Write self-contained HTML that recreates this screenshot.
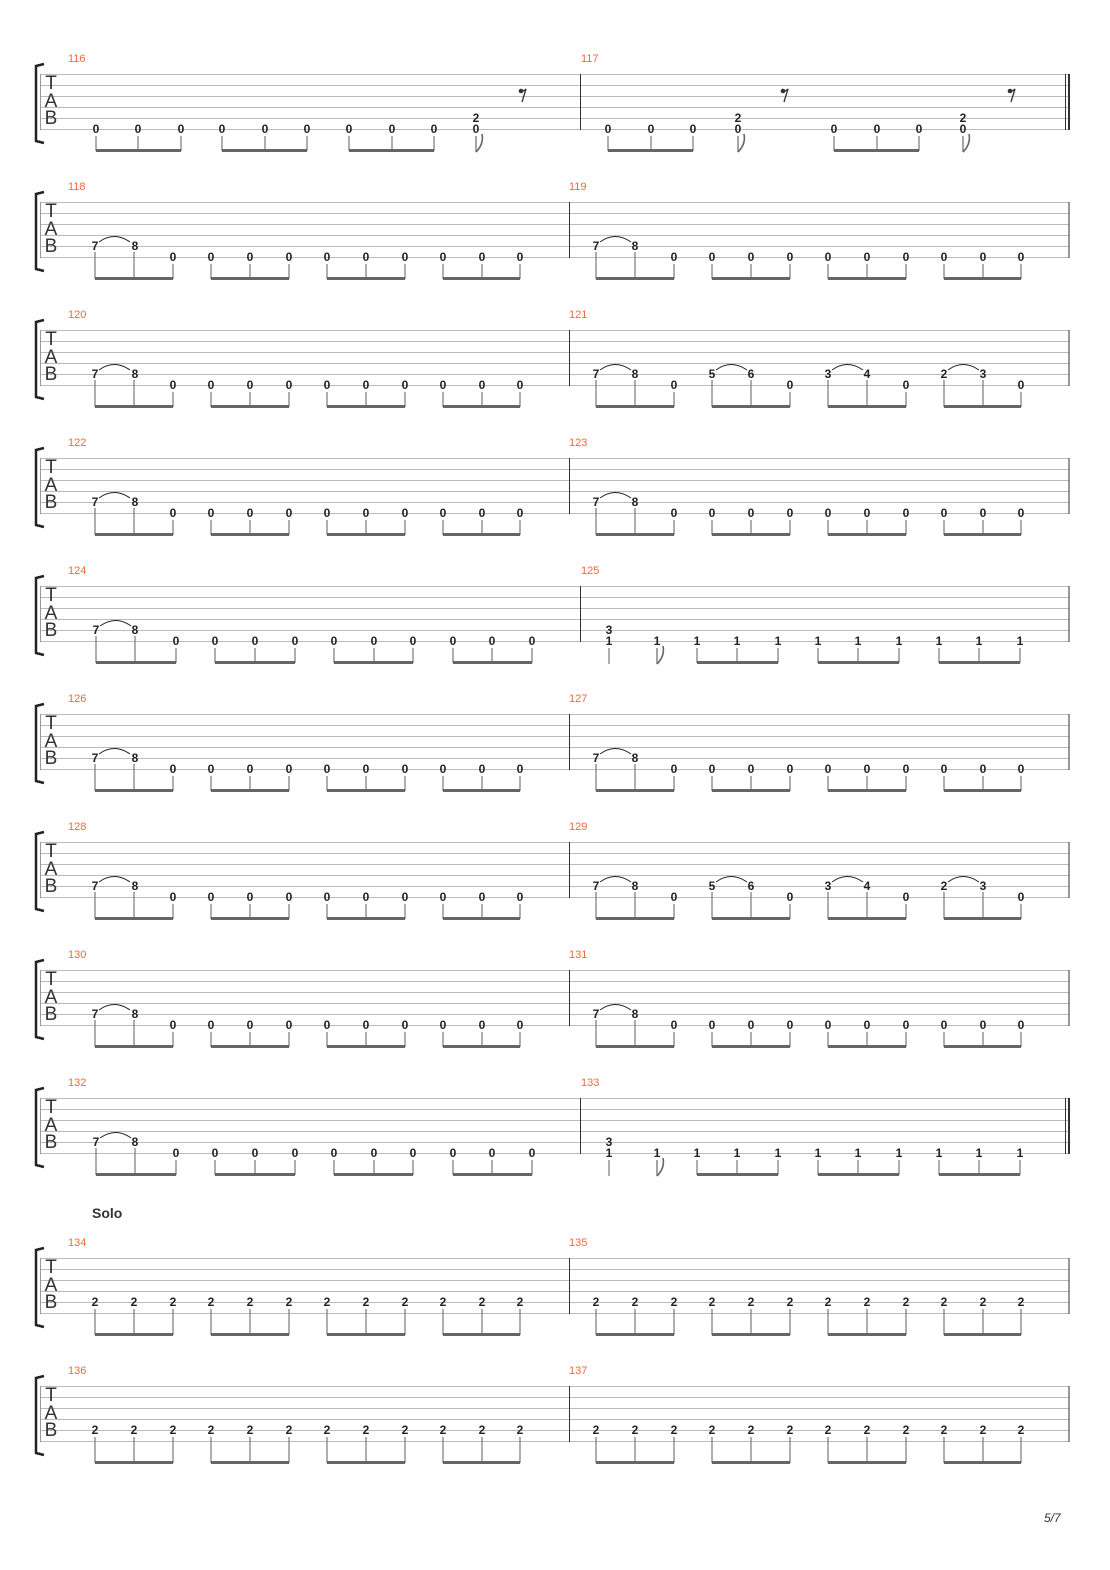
<!DOCTYPE html>
<html><head><meta charset="utf-8"><style>
body{margin:0;background:#fff}
svg{display:block}
.n{font:bold 12px "Liberation Sans",sans-serif;text-anchor:middle;fill:#222}
.m{font:11px "Liberation Sans",sans-serif;fill:#f06a3c}
.t{font:19px "Liberation Sans",sans-serif;text-anchor:middle;fill:#333}
</style></head><body>
<svg width="1110" height="1570" viewBox="0 0 1110 1570" xmlns="http://www.w3.org/2000/svg">
<defs>
<g id="st">
<g stroke="#bbb" stroke-width="1"><line x1="40" y1="0.5" x2="1069" y2="0.5"/><line x1="40" y1="11.5" x2="1069" y2="11.5"/><line x1="40" y1="22.5" x2="1069" y2="22.5"/><line x1="40" y1="33.5" x2="1069" y2="33.5"/><line x1="40" y1="44.5" x2="1069" y2="44.5"/><line x1="40" y1="55.5" x2="1069" y2="55.5"/></g>
<line x1="40.5" y1="0" x2="40.5" y2="56" stroke="#999"/>
<path d="M44 -10 L36 -8 L36 67 L44 69" fill="none" stroke="#222" stroke-width="2.5"/>
</g>
<g id="bm" stroke="#777" stroke-width="1.2">
<line x1="0" y1="62" x2="0" y2="77"/><line x1="39" y1="62" x2="39" y2="77"/><line x1="78" y1="62" x2="78" y2="77"/>
<line x1="116" y1="62" x2="116" y2="77"/><line x1="155" y1="62" x2="155" y2="77"/><line x1="194" y1="62" x2="194" y2="77"/>
<line x1="232" y1="62" x2="232" y2="77"/><line x1="271" y1="62" x2="271" y2="77"/><line x1="310" y1="62" x2="310" y2="77"/>
<line x1="348" y1="62" x2="348" y2="77"/><line x1="387" y1="62" x2="387" y2="77"/><line x1="425" y1="62" x2="425" y2="77"/>
<rect x="0" y="75" width="78" height="3" fill="#666" stroke="none"/><rect x="116" y="75" width="78" height="3" fill="#666" stroke="none"/><rect x="232" y="75" width="78" height="3" fill="#666" stroke="none"/><rect x="348" y="75" width="77" height="3" fill="#666" stroke="none"/>
</g>
<g id="ts" stroke="#777" stroke-width="1.2"><line x1="0" y1="50" x2="0" y2="62"/><line x1="39" y1="50" x2="39" y2="62"/><path d="M4 40 Q19 29 35 40" fill="none" stroke="#222" stroke-width="1"/></g>
<g id="bm2" stroke="#777" stroke-width="1.2">
<line x1="0" y1="51" x2="0" y2="62"/><line x1="39" y1="51" x2="39" y2="62"/><line x1="78" y1="51" x2="78" y2="62"/>
<line x1="116" y1="51" x2="116" y2="62"/><line x1="155" y1="51" x2="155" y2="62"/><line x1="194" y1="51" x2="194" y2="62"/>
<line x1="232" y1="51" x2="232" y2="62"/><line x1="271" y1="51" x2="271" y2="62"/><line x1="310" y1="51" x2="310" y2="62"/>
<line x1="348" y1="51" x2="348" y2="62"/><line x1="387" y1="51" x2="387" y2="62"/><line x1="425" y1="51" x2="425" y2="62"/>
</g>
<g id="fl" fill="none" stroke="#666" stroke-width="1.2"><line x1="0" y1="62" x2="0" y2="78"/><path d="M0 78 Q8 70 6 60" stroke-width="1.6"/></g>
<g id="rs"><circle cx="-2" cy="17" r="2.3" fill="#333"/><path d="M-3 17 Q0 18 3 15 L-1 28" fill="none" stroke="#333" stroke-width="1.3"/></g>
</defs>

<!-- System 1: 116/117 -->
<g transform="translate(0,74)">
<use href="#st"/>
<text class="t" x="51" y="15">T</text><text class="t" x="51" y="33">A</text><text class="t" x="51" y="50">B</text>
<text class="m" x="68" y="-12">116</text><text class="m" x="581" y="-12">117</text>
<line x1="580.5" y1="0" x2="580.5" y2="56" stroke="#333"/>
<line x1="1065.5" y1="0" x2="1065.5" y2="56" stroke="#333"/><line x1="1069" y1="0" x2="1069" y2="56" stroke="#333" stroke-width="2"/>
<g stroke="#777" stroke-width="1.2">
<line x1="96" y1="62" x2="96" y2="77"/><line x1="138" y1="62" x2="138" y2="77"/><line x1="181" y1="62" x2="181" y2="77"/>
<line x1="222" y1="62" x2="222" y2="77"/><line x1="265" y1="62" x2="265" y2="77"/><line x1="307" y1="62" x2="307" y2="77"/>
<line x1="349" y1="62" x2="349" y2="77"/><line x1="392" y1="62" x2="392" y2="77"/><line x1="434" y1="62" x2="434" y2="77"/>
<line x1="608" y1="62" x2="608" y2="77"/><line x1="651" y1="62" x2="651" y2="77"/><line x1="693" y1="62" x2="693" y2="77"/>
<line x1="834" y1="62" x2="834" y2="77"/><line x1="877" y1="62" x2="877" y2="77"/><line x1="919" y1="62" x2="919" y2="77"/>
</g>
<g fill="#666"><rect x="96" y="75" width="85" height="3"/><rect x="222" y="75" width="85" height="3"/><rect x="349" y="75" width="85" height="3"/><rect x="608" y="75" width="85" height="3"/><rect x="834" y="75" width="85" height="3"/></g>
<use href="#fl" x="476"/><use href="#fl" x="738"/><use href="#fl" x="963"/>
<use href="#rs" x="523"/><use href="#rs" x="785"/><use href="#rs" x="1012"/>
<text class="n" x="96" y="59">0</text><text class="n" x="138" y="59">0</text><text class="n" x="181" y="59">0</text><text class="n" x="222" y="59">0</text><text class="n" x="265" y="59">0</text><text class="n" x="307" y="59">0</text><text class="n" x="349" y="59">0</text><text class="n" x="392" y="59">0</text><text class="n" x="434" y="59">0</text>
<text class="n" x="476" y="48">2</text><text class="n" x="476" y="59">0</text>
<text class="n" x="608" y="59">0</text><text class="n" x="651" y="59">0</text><text class="n" x="693" y="59">0</text>
<text class="n" x="738" y="48">2</text><text class="n" x="738" y="59">0</text>
<text class="n" x="834" y="59">0</text><text class="n" x="877" y="59">0</text><text class="n" x="919" y="59">0</text>
<text class="n" x="963" y="48">2</text><text class="n" x="963" y="59">0</text>
</g>

<!-- Standard systems -->
<g transform="translate(0,202)">
<use href="#st"/><text class="t" x="51" y="15">T</text><text class="t" x="51" y="33">A</text><text class="t" x="51" y="50">B</text>
<text class="m" x="68" y="-12">118</text><text class="m" x="569" y="-12">119</text>
<line x1="569.5" y1="0" x2="569.5" y2="56" stroke="#333"/><line x1="1069" y1="0" x2="1069" y2="56" stroke="#333"/>
<use href="#bm" x="95"/><use href="#ts" x="95"/><use href="#bm" x="596"/><use href="#ts" x="596"/>
<text class="n" x="95" y="48">7</text><text class="n" x="135" y="48">8</text><text class="n" x="173" y="59">0</text><text class="n" x="211" y="59">0</text><text class="n" x="250" y="59">0</text><text class="n" x="289" y="59">0</text><text class="n" x="327" y="59">0</text><text class="n" x="366" y="59">0</text><text class="n" x="405" y="59">0</text><text class="n" x="443" y="59">0</text><text class="n" x="482" y="59">0</text><text class="n" x="520" y="59">0</text>
<text class="n" x="596" y="48">7</text><text class="n" x="635" y="48">8</text><text class="n" x="674" y="59">0</text><text class="n" x="712" y="59">0</text><text class="n" x="751" y="59">0</text><text class="n" x="790" y="59">0</text><text class="n" x="828" y="59">0</text><text class="n" x="867" y="59">0</text><text class="n" x="906" y="59">0</text><text class="n" x="944" y="59">0</text><text class="n" x="983" y="59">0</text><text class="n" x="1021" y="59">0</text>
</g>

<g transform="translate(0,330)">
<use href="#st"/><text class="t" x="51" y="15">T</text><text class="t" x="51" y="33">A</text><text class="t" x="51" y="50">B</text>
<text class="m" x="68" y="-12">120</text><text class="m" x="569" y="-12">121</text>
<line x1="569.5" y1="0" x2="569.5" y2="56" stroke="#333"/><line x1="1069" y1="0" x2="1069" y2="56" stroke="#333"/>
<use href="#bm" x="95"/><use href="#ts" x="95"/><use href="#bm" x="596"/><use href="#ts" x="596"/><use href="#ts" x="712"/><use href="#ts" x="828"/><use href="#ts" x="944"/>
<text class="n" x="95" y="48">7</text><text class="n" x="135" y="48">8</text><text class="n" x="173" y="59">0</text><text class="n" x="211" y="59">0</text><text class="n" x="250" y="59">0</text><text class="n" x="289" y="59">0</text><text class="n" x="327" y="59">0</text><text class="n" x="366" y="59">0</text><text class="n" x="405" y="59">0</text><text class="n" x="443" y="59">0</text><text class="n" x="482" y="59">0</text><text class="n" x="520" y="59">0</text>
<text class="n" x="596" y="48">7</text><text class="n" x="635" y="48">8</text><text class="n" x="674" y="59">0</text><text class="n" x="712" y="48">5</text><text class="n" x="751" y="48">6</text><text class="n" x="790" y="59">0</text><text class="n" x="828" y="48">3</text><text class="n" x="867" y="48">4</text><text class="n" x="906" y="59">0</text><text class="n" x="944" y="48">2</text><text class="n" x="983" y="48">3</text><text class="n" x="1021" y="59">0</text>
</g>

<g transform="translate(0,458)">
<use href="#st"/><text class="t" x="51" y="15">T</text><text class="t" x="51" y="33">A</text><text class="t" x="51" y="50">B</text>
<text class="m" x="68" y="-12">122</text><text class="m" x="569" y="-12">123</text>
<line x1="569.5" y1="0" x2="569.5" y2="56" stroke="#333"/><line x1="1069" y1="0" x2="1069" y2="56" stroke="#333"/>
<use href="#bm" x="95"/><use href="#ts" x="95"/><use href="#bm" x="596"/><use href="#ts" x="596"/>
<text class="n" x="95" y="48">7</text><text class="n" x="135" y="48">8</text><text class="n" x="173" y="59">0</text><text class="n" x="211" y="59">0</text><text class="n" x="250" y="59">0</text><text class="n" x="289" y="59">0</text><text class="n" x="327" y="59">0</text><text class="n" x="366" y="59">0</text><text class="n" x="405" y="59">0</text><text class="n" x="443" y="59">0</text><text class="n" x="482" y="59">0</text><text class="n" x="520" y="59">0</text>
<text class="n" x="596" y="48">7</text><text class="n" x="635" y="48">8</text><text class="n" x="674" y="59">0</text><text class="n" x="712" y="59">0</text><text class="n" x="751" y="59">0</text><text class="n" x="790" y="59">0</text><text class="n" x="828" y="59">0</text><text class="n" x="867" y="59">0</text><text class="n" x="906" y="59">0</text><text class="n" x="944" y="59">0</text><text class="n" x="983" y="59">0</text><text class="n" x="1021" y="59">0</text>
</g>

<!-- 124/125 -->
<g transform="translate(0,586)">
<use href="#st"/><text class="t" x="51" y="15">T</text><text class="t" x="51" y="33">A</text><text class="t" x="51" y="50">B</text>
<text class="m" x="68" y="-12">124</text><text class="m" x="581" y="-12">125</text>
<line x1="580.5" y1="0" x2="580.5" y2="56" stroke="#333"/><line x1="1069" y1="0" x2="1069" y2="56" stroke="#333"/>
<g stroke="#777" stroke-width="1.2">
<line x1="96" y1="50" x2="96" y2="77"/><line x1="135" y1="50" x2="135" y2="77"/><line x1="176" y1="62" x2="176" y2="77"/>
<line x1="215" y1="62" x2="215" y2="77"/><line x1="255" y1="62" x2="255" y2="77"/><line x1="295" y1="62" x2="295" y2="77"/>
<line x1="334" y1="62" x2="334" y2="77"/><line x1="374" y1="62" x2="374" y2="77"/><line x1="413" y1="62" x2="413" y2="77"/>
<line x1="453" y1="62" x2="453" y2="77"/><line x1="492" y1="62" x2="492" y2="77"/><line x1="532" y1="62" x2="532" y2="77"/>
<line x1="609" y1="62" x2="609" y2="78"/>
<line x1="697" y1="62" x2="697" y2="77"/><line x1="737" y1="62" x2="737" y2="77"/><line x1="778" y1="62" x2="778" y2="77"/>
<line x1="818" y1="62" x2="818" y2="77"/><line x1="858" y1="62" x2="858" y2="77"/><line x1="899" y1="62" x2="899" y2="77"/>
<line x1="939" y1="62" x2="939" y2="77"/><line x1="979" y1="62" x2="979" y2="77"/><line x1="1020" y1="62" x2="1020" y2="77"/>
</g>
<g fill="#666"><rect x="96" y="75" width="80" height="3"/><rect x="215" y="75" width="80" height="3"/><rect x="334" y="75" width="79" height="3"/><rect x="453" y="75" width="79" height="3"/><rect x="697" y="75" width="81" height="3"/><rect x="818" y="75" width="81" height="3"/><rect x="939" y="75" width="81" height="3"/></g>
<path d="M100 40 Q116 29 131 40" fill="none" stroke="#222"/>
<use href="#fl" x="657"/>
<text class="n" x="96" y="48">7</text><text class="n" x="135" y="48">8</text><text class="n" x="176" y="59">0</text><text class="n" x="215" y="59">0</text><text class="n" x="255" y="59">0</text><text class="n" x="295" y="59">0</text><text class="n" x="334" y="59">0</text><text class="n" x="374" y="59">0</text><text class="n" x="413" y="59">0</text><text class="n" x="453" y="59">0</text><text class="n" x="492" y="59">0</text><text class="n" x="532" y="59">0</text>
<text class="n" x="609" y="48">3</text><text class="n" x="609" y="59">1</text><text class="n" x="657" y="59">1</text><text class="n" x="697" y="59">1</text><text class="n" x="737" y="59">1</text><text class="n" x="778" y="59">1</text><text class="n" x="818" y="59">1</text><text class="n" x="858" y="59">1</text><text class="n" x="899" y="59">1</text><text class="n" x="939" y="59">1</text><text class="n" x="979" y="59">1</text><text class="n" x="1020" y="59">1</text>
</g>

<g transform="translate(0,714)">
<use href="#st"/><text class="t" x="51" y="15">T</text><text class="t" x="51" y="33">A</text><text class="t" x="51" y="50">B</text>
<text class="m" x="68" y="-12">126</text><text class="m" x="569" y="-12">127</text>
<line x1="569.5" y1="0" x2="569.5" y2="56" stroke="#333"/><line x1="1069" y1="0" x2="1069" y2="56" stroke="#333"/>
<use href="#bm" x="95"/><use href="#ts" x="95"/><use href="#bm" x="596"/><use href="#ts" x="596"/>
<text class="n" x="95" y="48">7</text><text class="n" x="135" y="48">8</text><text class="n" x="173" y="59">0</text><text class="n" x="211" y="59">0</text><text class="n" x="250" y="59">0</text><text class="n" x="289" y="59">0</text><text class="n" x="327" y="59">0</text><text class="n" x="366" y="59">0</text><text class="n" x="405" y="59">0</text><text class="n" x="443" y="59">0</text><text class="n" x="482" y="59">0</text><text class="n" x="520" y="59">0</text>
<text class="n" x="596" y="48">7</text><text class="n" x="635" y="48">8</text><text class="n" x="674" y="59">0</text><text class="n" x="712" y="59">0</text><text class="n" x="751" y="59">0</text><text class="n" x="790" y="59">0</text><text class="n" x="828" y="59">0</text><text class="n" x="867" y="59">0</text><text class="n" x="906" y="59">0</text><text class="n" x="944" y="59">0</text><text class="n" x="983" y="59">0</text><text class="n" x="1021" y="59">0</text>
</g>

<g transform="translate(0,842)">
<use href="#st"/><text class="t" x="51" y="15">T</text><text class="t" x="51" y="33">A</text><text class="t" x="51" y="50">B</text>
<text class="m" x="68" y="-12">128</text><text class="m" x="569" y="-12">129</text>
<line x1="569.5" y1="0" x2="569.5" y2="56" stroke="#333"/><line x1="1069" y1="0" x2="1069" y2="56" stroke="#333"/>
<use href="#bm" x="95"/><use href="#ts" x="95"/><use href="#bm" x="596"/><use href="#ts" x="596"/><use href="#ts" x="712"/><use href="#ts" x="828"/><use href="#ts" x="944"/>
<text class="n" x="95" y="48">7</text><text class="n" x="135" y="48">8</text><text class="n" x="173" y="59">0</text><text class="n" x="211" y="59">0</text><text class="n" x="250" y="59">0</text><text class="n" x="289" y="59">0</text><text class="n" x="327" y="59">0</text><text class="n" x="366" y="59">0</text><text class="n" x="405" y="59">0</text><text class="n" x="443" y="59">0</text><text class="n" x="482" y="59">0</text><text class="n" x="520" y="59">0</text>
<text class="n" x="596" y="48">7</text><text class="n" x="635" y="48">8</text><text class="n" x="674" y="59">0</text><text class="n" x="712" y="48">5</text><text class="n" x="751" y="48">6</text><text class="n" x="790" y="59">0</text><text class="n" x="828" y="48">3</text><text class="n" x="867" y="48">4</text><text class="n" x="906" y="59">0</text><text class="n" x="944" y="48">2</text><text class="n" x="983" y="48">3</text><text class="n" x="1021" y="59">0</text>
</g>

<g transform="translate(0,970)">
<use href="#st"/><text class="t" x="51" y="15">T</text><text class="t" x="51" y="33">A</text><text class="t" x="51" y="50">B</text>
<text class="m" x="68" y="-12">130</text><text class="m" x="569" y="-12">131</text>
<line x1="569.5" y1="0" x2="569.5" y2="56" stroke="#333"/><line x1="1069" y1="0" x2="1069" y2="56" stroke="#333"/>
<use href="#bm" x="95"/><use href="#ts" x="95"/><use href="#bm" x="596"/><use href="#ts" x="596"/>
<text class="n" x="95" y="48">7</text><text class="n" x="135" y="48">8</text><text class="n" x="173" y="59">0</text><text class="n" x="211" y="59">0</text><text class="n" x="250" y="59">0</text><text class="n" x="289" y="59">0</text><text class="n" x="327" y="59">0</text><text class="n" x="366" y="59">0</text><text class="n" x="405" y="59">0</text><text class="n" x="443" y="59">0</text><text class="n" x="482" y="59">0</text><text class="n" x="520" y="59">0</text>
<text class="n" x="596" y="48">7</text><text class="n" x="635" y="48">8</text><text class="n" x="674" y="59">0</text><text class="n" x="712" y="59">0</text><text class="n" x="751" y="59">0</text><text class="n" x="790" y="59">0</text><text class="n" x="828" y="59">0</text><text class="n" x="867" y="59">0</text><text class="n" x="906" y="59">0</text><text class="n" x="944" y="59">0</text><text class="n" x="983" y="59">0</text><text class="n" x="1021" y="59">0</text>
</g>

<!-- 132/133 -->
<g transform="translate(0,1098)">
<use href="#st"/><text class="t" x="51" y="15">T</text><text class="t" x="51" y="33">A</text><text class="t" x="51" y="50">B</text>
<text class="m" x="68" y="-12">132</text><text class="m" x="581" y="-12">133</text>
<line x1="580.5" y1="0" x2="580.5" y2="56" stroke="#333"/>
<line x1="1065.5" y1="0" x2="1065.5" y2="56" stroke="#333"/><line x1="1069" y1="0" x2="1069" y2="56" stroke="#333" stroke-width="2"/>
<g stroke="#777" stroke-width="1.2">
<line x1="96" y1="50" x2="96" y2="77"/><line x1="135" y1="50" x2="135" y2="77"/><line x1="176" y1="62" x2="176" y2="77"/>
<line x1="215" y1="62" x2="215" y2="77"/><line x1="255" y1="62" x2="255" y2="77"/><line x1="295" y1="62" x2="295" y2="77"/>
<line x1="334" y1="62" x2="334" y2="77"/><line x1="374" y1="62" x2="374" y2="77"/><line x1="413" y1="62" x2="413" y2="77"/>
<line x1="453" y1="62" x2="453" y2="77"/><line x1="492" y1="62" x2="492" y2="77"/><line x1="532" y1="62" x2="532" y2="77"/>
<line x1="609" y1="62" x2="609" y2="78"/>
<line x1="697" y1="62" x2="697" y2="77"/><line x1="737" y1="62" x2="737" y2="77"/><line x1="778" y1="62" x2="778" y2="77"/>
<line x1="818" y1="62" x2="818" y2="77"/><line x1="858" y1="62" x2="858" y2="77"/><line x1="899" y1="62" x2="899" y2="77"/>
<line x1="939" y1="62" x2="939" y2="77"/><line x1="979" y1="62" x2="979" y2="77"/><line x1="1020" y1="62" x2="1020" y2="77"/>
</g>
<g fill="#666"><rect x="96" y="75" width="80" height="3"/><rect x="215" y="75" width="80" height="3"/><rect x="334" y="75" width="79" height="3"/><rect x="453" y="75" width="79" height="3"/><rect x="697" y="75" width="81" height="3"/><rect x="818" y="75" width="81" height="3"/><rect x="939" y="75" width="81" height="3"/></g>
<path d="M100 40 Q116 29 131 40" fill="none" stroke="#222"/>
<use href="#fl" x="657"/>
<text class="n" x="96" y="48">7</text><text class="n" x="135" y="48">8</text><text class="n" x="176" y="59">0</text><text class="n" x="215" y="59">0</text><text class="n" x="255" y="59">0</text><text class="n" x="295" y="59">0</text><text class="n" x="334" y="59">0</text><text class="n" x="374" y="59">0</text><text class="n" x="413" y="59">0</text><text class="n" x="453" y="59">0</text><text class="n" x="492" y="59">0</text><text class="n" x="532" y="59">0</text>
<text class="n" x="609" y="48">3</text><text class="n" x="609" y="59">1</text><text class="n" x="657" y="59">1</text><text class="n" x="697" y="59">1</text><text class="n" x="737" y="59">1</text><text class="n" x="778" y="59">1</text><text class="n" x="818" y="59">1</text><text class="n" x="858" y="59">1</text><text class="n" x="899" y="59">1</text><text class="n" x="939" y="59">1</text><text class="n" x="979" y="59">1</text><text class="n" x="1020" y="59">1</text>
</g>

<text x="92" y="1218" style="font:bold 14px 'Liberation Sans',sans-serif;fill:#333">Solo</text>

<g transform="translate(0,1258)">
<use href="#st"/><text class="t" x="51" y="15">T</text><text class="t" x="51" y="33">A</text><text class="t" x="51" y="50">B</text>
<text class="m" x="68" y="-12">134</text><text class="m" x="569" y="-12">135</text>
<line x1="569.5" y1="0" x2="569.5" y2="56" stroke="#333"/><line x1="1069" y1="0" x2="1069" y2="56" stroke="#333"/>
<use href="#bm" x="95"/><use href="#bm2" x="95"/><use href="#bm" x="596"/><use href="#bm2" x="596"/>
<text class="n" x="95" y="48">2</text><text class="n" x="134" y="48">2</text><text class="n" x="173" y="48">2</text><text class="n" x="211" y="48">2</text><text class="n" x="250" y="48">2</text><text class="n" x="289" y="48">2</text><text class="n" x="327" y="48">2</text><text class="n" x="366" y="48">2</text><text class="n" x="405" y="48">2</text><text class="n" x="443" y="48">2</text><text class="n" x="482" y="48">2</text><text class="n" x="520" y="48">2</text>
<text class="n" x="596" y="48">2</text><text class="n" x="635" y="48">2</text><text class="n" x="674" y="48">2</text><text class="n" x="712" y="48">2</text><text class="n" x="751" y="48">2</text><text class="n" x="790" y="48">2</text><text class="n" x="828" y="48">2</text><text class="n" x="867" y="48">2</text><text class="n" x="906" y="48">2</text><text class="n" x="944" y="48">2</text><text class="n" x="983" y="48">2</text><text class="n" x="1021" y="48">2</text>
</g>

<g transform="translate(0,1386)">
<use href="#st"/><text class="t" x="51" y="15">T</text><text class="t" x="51" y="33">A</text><text class="t" x="51" y="50">B</text>
<text class="m" x="68" y="-12">136</text><text class="m" x="569" y="-12">137</text>
<line x1="569.5" y1="0" x2="569.5" y2="56" stroke="#333"/><line x1="1069" y1="0" x2="1069" y2="56" stroke="#333"/>
<use href="#bm" x="95"/><use href="#bm2" x="95"/><use href="#bm" x="596"/><use href="#bm2" x="596"/>
<text class="n" x="95" y="48">2</text><text class="n" x="134" y="48">2</text><text class="n" x="173" y="48">2</text><text class="n" x="211" y="48">2</text><text class="n" x="250" y="48">2</text><text class="n" x="289" y="48">2</text><text class="n" x="327" y="48">2</text><text class="n" x="366" y="48">2</text><text class="n" x="405" y="48">2</text><text class="n" x="443" y="48">2</text><text class="n" x="482" y="48">2</text><text class="n" x="520" y="48">2</text>
<text class="n" x="596" y="48">2</text><text class="n" x="635" y="48">2</text><text class="n" x="674" y="48">2</text><text class="n" x="712" y="48">2</text><text class="n" x="751" y="48">2</text><text class="n" x="790" y="48">2</text><text class="n" x="828" y="48">2</text><text class="n" x="867" y="48">2</text><text class="n" x="906" y="48">2</text><text class="n" x="944" y="48">2</text><text class="n" x="983" y="48">2</text><text class="n" x="1021" y="48">2</text>
</g>

<text x="1044" y="1522" style="font:italic 12px 'Liberation Sans',sans-serif;fill:#333">5/7</text>
</svg>
</body></html>
